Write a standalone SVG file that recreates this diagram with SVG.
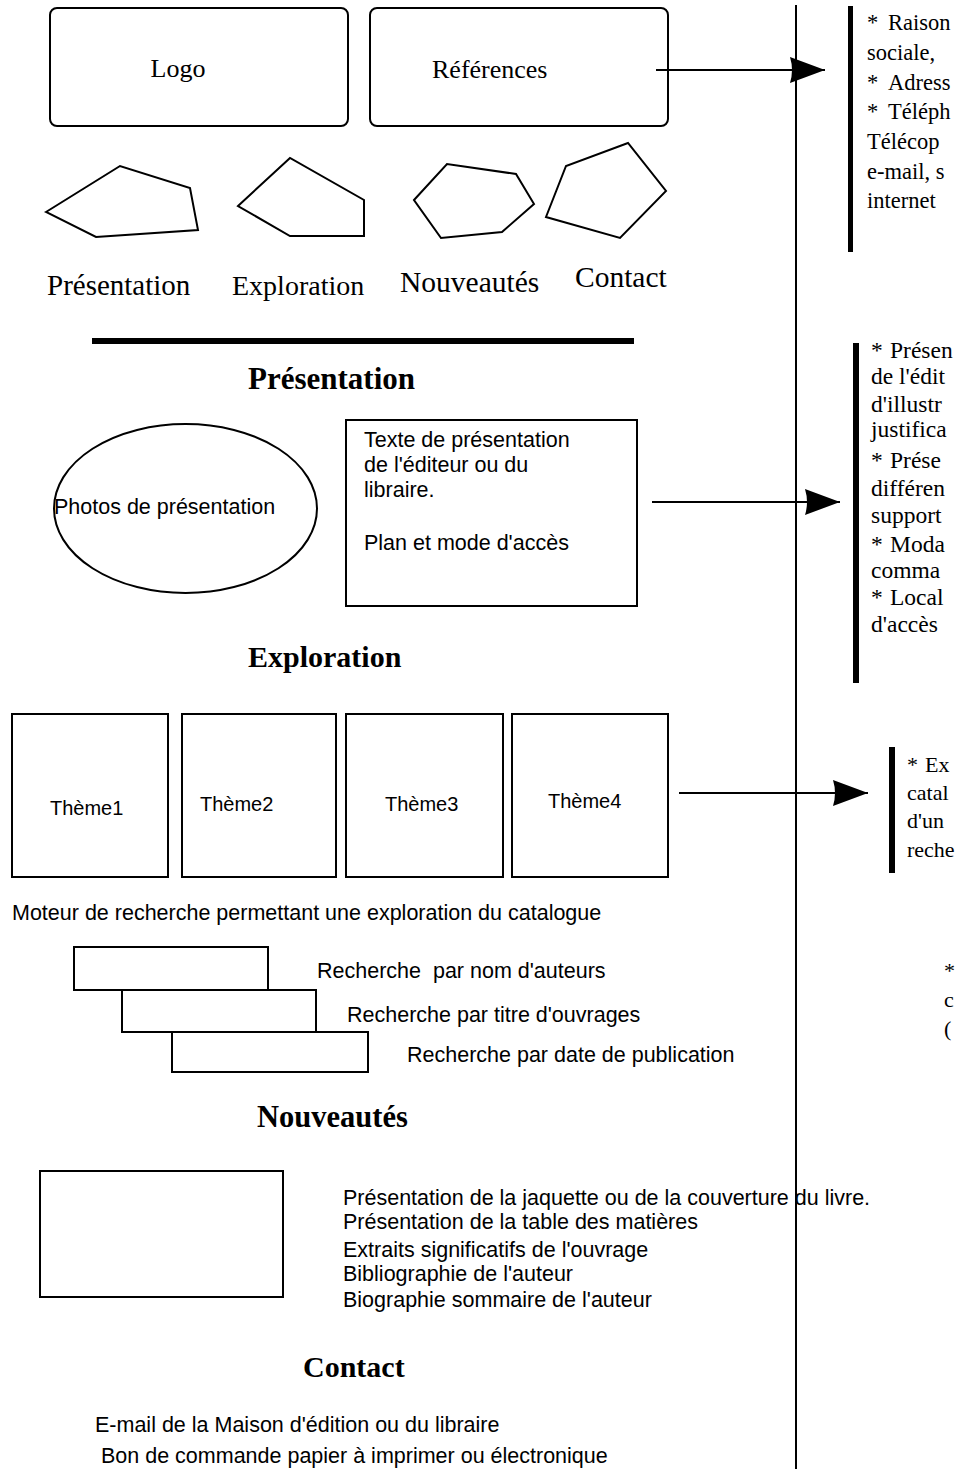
<svg xmlns="http://www.w3.org/2000/svg" width="955" height="1469" viewBox="0 0 955 1469">
<style>
.s{fill:none;stroke:#000;stroke-width:2}
.w{fill:#fff;stroke:#000;stroke-width:2}
.t{font-family:"Liberation Serif","Times New Roman",serif;fill:#000}
.a{font-family:"Liberation Sans",Arial,sans-serif;fill:#000}
.h{font-weight:bold}
.b{font-size:21.5px}
.th{font-size:20px}
.bar{fill:#000}
</style>
<defs>
<marker id="ah" markerUnits="userSpaceOnUse" markerWidth="36" markerHeight="28" refX="35" refY="13" orient="auto">
<path d="M0,0 Q4,13 0,26 L35,13 Z" fill="#000"/>
</marker>
</defs>
<rect width="955" height="1469" fill="#fff"/>

<g id="logo">
<rect class="s" x="50" y="8" width="298" height="118" rx="7"/>
<text class="t" x="178" y="77" font-size="26" text-anchor="middle">Logo</text>
</g>
<g id="references">
<rect class="s" x="370" y="8" width="298" height="118" rx="7"/>
<text class="t" x="432" y="78" font-size="26">Références</text>
</g>

<g id="nav-presentation">
<polygon class="s" points="46,212 120,166 190,188 198,230 96,237"/>
<text class="t" x="47" y="295" font-size="29">Présentation</text>
</g>
<g id="nav-exploration">
<polygon class="s" points="238,206 290,158 364,200 364,236 290,236"/>
<text class="t" x="232" y="295" font-size="28">Exploration</text>
</g>
<g id="nav-nouveautes">
<polygon class="s" points="414,200 447,164 516,174 534,204 502,232 441,238"/>
<text class="t" x="400" y="292" font-size="29.5">Nouveautés</text>
</g>
<g id="nav-contact">
<polygon class="s" points="546,217 566,166 628,143 666,191 620,238"/>
<text class="t" x="575" y="287" font-size="29.5">Contact</text>
</g>

<rect id="separator" x="92" y="338" width="542" height="6" fill="#000"/>

<g id="divider">
<line class="s" x1="796" y1="5" x2="796" y2="1469"/>
</g>

<g id="note-references">
<rect class="bar" x="848" y="6" width="5" height="246"/>
<text class="t" font-size="22.5">
<tspan x="867" y="30">*</tspan><tspan x="888" y="30">Raison</tspan>
<tspan x="867" y="60">sociale,</tspan>
<tspan x="867" y="90">*</tspan><tspan x="888" y="90">Adress</tspan>
<tspan x="867" y="119">*</tspan><tspan x="888" y="119">Téléph</tspan>
<tspan x="867" y="149">Télécop</tspan>
<tspan x="867" y="179">e-mail, s</tspan>
<tspan x="867" y="208">internet</tspan>
</text>
</g>

<text id="h-presentation" class="t h" x="248" y="389" font-size="31">Présentation</text>

<g id="photos">
<ellipse class="s" cx="185.5" cy="508.5" rx="131.5" ry="84.5"/>
<text class="a b" x="54" y="514">Photos de présentation</text>
</g>
<g id="texte-presentation">
<rect class="s" x="346" y="420" width="291" height="186"/>
<text class="a b">
<tspan x="364" y="447">Texte de présentation</tspan>
<tspan x="364" y="472">de l'éditeur ou du</tspan>
<tspan x="364" y="497">libraire.</tspan>
<tspan x="364" y="550">Plan et mode d'accès</tspan>
</text>
</g>

<g id="note-presentation">
<rect class="bar" x="853" y="343" width="6" height="340"/>
<text class="t" font-size="23.5">
<tspan x="871" y="358">*</tspan><tspan x="890" y="358">Présen</tspan>
<tspan x="871" y="384">de l'édit</tspan>
<tspan x="871" y="412">d'illustr</tspan>
<tspan x="871" y="437">justifica</tspan>
<tspan x="871" y="468">*</tspan><tspan x="890" y="468">Prése</tspan>
<tspan x="871" y="496">différen</tspan>
<tspan x="871" y="523">support</tspan>
<tspan x="871" y="552">*</tspan><tspan x="890" y="552">Moda</tspan>
<tspan x="871" y="578">comma</tspan>
<tspan x="871" y="605">*</tspan><tspan x="890" y="605">Local</tspan>
<tspan x="871" y="632">d'accès</tspan>
</text>
</g>

<text id="h-exploration" class="t h" x="248" y="667" font-size="30">Exploration</text>

<g id="theme1">
<rect class="s" x="12" y="714" width="156" height="163"/>
<text class="a th" x="50" y="815">Thème1</text>
</g>
<g id="theme2">
<rect class="s" x="182" y="714" width="154" height="163"/>
<text class="a th" x="200" y="811">Thème2</text>
</g>
<g id="theme3">
<rect class="s" x="346" y="714" width="157" height="163"/>
<text class="a th" x="385" y="811">Thème3</text>
</g>
<g id="theme4">
<rect class="s" x="512" y="714" width="156" height="163"/>
<text class="a th" x="548" y="808">Thème4</text>
</g>

<g id="note-exploration">
<rect class="bar" x="889" y="747" width="6" height="126"/>
<text class="t" font-size="22">
<tspan x="907" y="772">*</tspan><tspan x="925" y="772">Ex</tspan>
<tspan x="907" y="800">catal</tspan>
<tspan x="907" y="828">d'un</tspan>
<tspan x="907" y="857">reche</tspan>
</text>
</g>

<text id="moteur" class="a b" x="12" y="920">Moteur de recherche permettant une exploration du catalogue</text>

<g id="search-auteur">
<rect class="w" x="74" y="947" width="194" height="43"/>
<text class="a b" x="317" y="978" xml:space="preserve">Recherche  par nom d'auteurs</text>
</g>
<g id="search-titre">
<rect class="w" x="122" y="990" width="194" height="42"/>
<text class="a b" x="347" y="1022">Recherche par titre d'ouvrages</text>
</g>
<g id="search-date">
<rect class="w" x="172" y="1032" width="196" height="40"/>
<text class="a b" x="407" y="1062">Recherche par date de publication</text>
</g>

<g id="note-search">
<text class="t" font-size="22">
<tspan x="944" y="978">*</tspan>
<tspan x="944" y="1007">c</tspan>
<tspan x="944" y="1036">(</tspan>
</text>
</g>

<text id="h-nouveautes" class="t h" x="257" y="1127" font-size="30.5">Nouveautés</text>

<g id="couverture">
<rect class="s" x="40" y="1171" width="243" height="126"/>
<text class="a b">
<tspan x="343" y="1205">Présentation de la jaquette ou de la couverture du livre.</tspan>
<tspan x="343" y="1229">Présentation de la table des matières</tspan>
<tspan x="343" y="1257">Extraits significatifs de l'ouvrage</tspan>
<tspan x="343" y="1281">Bibliographie de l'auteur</tspan>
<tspan x="343" y="1307">Biographie sommaire de l'auteur</tspan>
</text>
</g>

<text id="h-contact" class="t h" x="303" y="1377" font-size="30">Contact</text>

<g id="contact-items">
<text class="a b" x="95" y="1432">E-mail de la Maison d'édition ou du libraire</text>
<text class="a b" x="101" y="1463">Bon de commande papier à imprimer ou électronique</text>
</g>

<g id="connectors">
<line class="s" x1="656" y1="70" x2="825" y2="70" marker-end="url(#ah)"/>
<line class="s" x1="652" y1="502" x2="840" y2="502" marker-end="url(#ah)"/>
<line class="s" x1="679" y1="793" x2="868" y2="793" marker-end="url(#ah)"/>
</g>
</svg>
